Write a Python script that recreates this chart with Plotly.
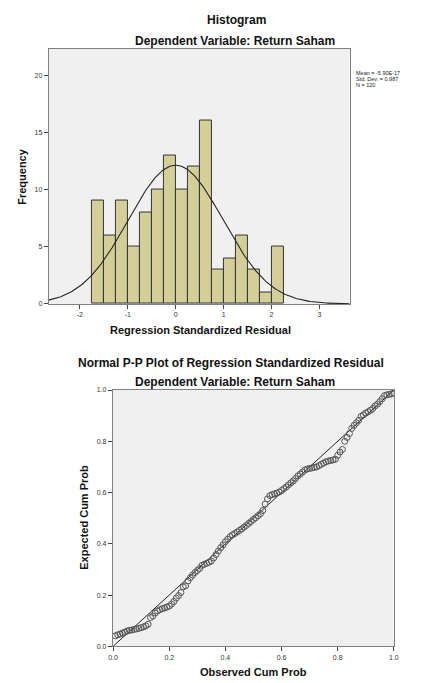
import plotly.graph_objects as go
import numpy as np
from math import sqrt, pi, exp

# ---------------- Data ----------------
# Histogram of regression standardized residuals
bin_left_edges = [-1.75, -1.5, -1.25, -1.0, -0.75, -0.5, -0.25, 0.0,
                  0.25, 0.5, 0.75, 1.0, 1.25, 1.5, 1.75, 2.0]
bin_width = 0.25
frequencies = [9, 6, 9, 5, 8, 10, 13, 10, 12, 16, 3, 4, 6, 3, 1, 5]

stat_mean = -5.90e-17
stat_sd = 0.987
stat_n = 120

hist_xticks = [-2, -1, 0, 1, 2, 3]
hist_yticks = [0, 5, 10, 15, 20]

# Normal P-P plot: expected cumulative probabilities, sorted
expected_cum_prob = [
    0.041, 0.045, 0.048, 0.052, 0.055, 0.060, 0.062, 0.064, 0.066,
    0.068, 0.070, 0.073, 0.076, 0.080, 0.086,
    0.112, 0.118, 0.130, 0.138, 0.143, 0.147, 0.150, 0.153, 0.157,
    0.165, 0.175, 0.188, 0.198, 0.210,
    0.232, 0.236, 0.255, 0.268, 0.278, 0.288, 0.296, 0.304,
    0.316, 0.320, 0.324, 0.328, 0.333, 0.345, 0.358, 0.372, 0.385, 0.396,
    0.408, 0.418, 0.428, 0.435, 0.440, 0.446, 0.452, 0.458, 0.465, 0.472, 0.480, 0.487, 0.495,
    0.502, 0.510, 0.518, 0.530, 0.555, 0.575, 0.588, 0.592, 0.595, 0.598,
    0.602, 0.608, 0.615, 0.622, 0.630, 0.638, 0.645, 0.655, 0.665, 0.672, 0.680, 0.688,
    0.692, 0.694, 0.696, 0.698, 0.700, 0.705, 0.710, 0.715, 0.720, 0.723, 0.725, 0.727,
    0.730, 0.745, 0.758, 0.768,
    0.800, 0.815, 0.830,
    0.850, 0.862, 0.872, 0.882,
    0.897, 0.903, 0.910, 0.915, 0.921, 0.928,
    0.938, 0.945, 0.955,
    0.966,
    0.978, 0.981, 0.983, 0.985, 0.987,
]
observed_cum_prob = [(i + 1) / len(expected_cum_prob) for i in range(len(expected_cum_prob))]

pp_ticks = [0.0, 0.2, 0.4, 0.6, 0.8, 1.0]

# ---------------- Layout helpers ----------------
W, H = 422, 683
def px(x):
    return x / W
def py(y):
    return 1 - y / H

FONT = "Arial, 'Liberation Sans', sans-serif"
BAR_FILL = "#d4cf98"
PLOT_BG = "#f0f0f0"
FRAME = "#808080"
TICKC = "#444444"

fig = go.Figure()

# Histogram bars
bar_centers = [e + bin_width / 2 for e in bin_left_edges]
fig.add_trace(go.Bar(
    x=bar_centers, y=frequencies, width=bin_width,
    marker=dict(color=BAR_FILL, line=dict(color="#333333", width=1)),
    xaxis="x", yaxis="y", showlegend=False, hoverinfo="x+y"))

# Fitted normal curve (from stated mean, sd, N)
xs = np.linspace(-2.65, 3.63, 300)
ys = [stat_n * bin_width / (stat_sd * sqrt(2 * pi)) * exp(-0.5 * ((v - stat_mean) / stat_sd) ** 2) for v in xs]
fig.add_trace(go.Scatter(
    x=xs, y=ys, mode="lines", line=dict(color="#222222", width=1.1),
    xaxis="x", yaxis="y", showlegend=False, hoverinfo="skip"))

# P-P diagonal
fig.add_trace(go.Scatter(
    x=[pp_ticks[0], pp_ticks[-1]], y=[pp_ticks[0], pp_ticks[-1]], mode="lines",
    line=dict(color="#222222", width=1),
    xaxis="x2", yaxis="y2", showlegend=False, hoverinfo="skip"))

# P-P points
fig.add_trace(go.Scatter(
    x=observed_cum_prob, y=expected_cum_prob, mode="markers",
    marker=dict(symbol="circle-open", size=6, color="#555555", line=dict(width=1, color="#555555")),
    xaxis="x2", yaxis="y2", showlegend=False))

axis_common = dict(
    showgrid=False, zeroline=False, showline=True, mirror=True,
    linecolor=FRAME, linewidth=1.3, ticks="outside", ticklen=4,
    tickcolor=TICKC, tickwidth=1,
    tickfont=dict(family=FONT, size=7, color="#333333"),
)

fig.update_layout(
    width=W, height=H,
    margin=dict(l=0, r=0, t=0, b=0),
    paper_bgcolor="white", plot_bgcolor=PLOT_BG,
    bargap=0,
    font=dict(family=FONT),
    xaxis=dict(domain=[px(45), px(353)], range=[-2.645, 3.63],
               tickvals=hist_xticks, ticktext=[str(v) for v in hist_xticks],
               anchor="y", **axis_common),
    yaxis=dict(domain=[py(303), py(45)], range=[0, 22.33],
               tickvals=hist_yticks, anchor="x", **axis_common),
    xaxis2=dict(domain=[px(110.7), px(398.3)], range=[0, 1],
                tickvals=pp_ticks, ticktext=[f"{v:.1f}" for v in pp_ticks],
                anchor="y2", **axis_common),
    yaxis2=dict(domain=[py(649), py(390)], range=[0, 1],
                tickvals=pp_ticks, ticktext=[f"{v:.1f}" for v in pp_ticks],
                anchor="x2", **axis_common),
)

def text(x, y, s, size, bold=True, angle=0, xanchor="center", color="#111111", pad=1):
    fig.add_annotation(
        x=px(x), y=py(y), xref="paper", yref="paper", text=(f"<b>{s}</b>" if bold else s),
        showarrow=False, xanchor=xanchor, yanchor="middle", textangle=angle, borderpad=pad,
        font=dict(family=FONT, size=size, color=color))

# Histogram titles
text(237, 16, "Histogram", 12)
text(236, 37, "Dependent Variable: Return Saham", 12)
text(200, 329, "Regression Standardized Residual", 11)
text(18, 174, "Frequency", 11, angle=-90)

# Stats box
text(358, 70, "Mean = -5.90E-17", 5.5, bold=False, xanchor="left", color="#222222", pad=0)
text(358, 76, "Std. Dev. = 0.987", 5.5, bold=False, xanchor="left", color="#222222", pad=0)
text(358, 82, "N = 120", 5.5, bold=False, xanchor="left", color="#222222", pad=0)

# P-P titles
text(231, 363, "Normal P-P Plot of Regression Standardized Residual", 12)
text(236, 382, "Dependent Variable: Return Saham", 12)
text(255, 675, "Observed Cum Prob", 11)
text(81, 519, "Expected Cum Prob", 11, angle=-90)

fig.write_html("out.html", config={"displayModeBar": False},
               post_script="document.body.style.margin='0';document.body.style.overflow='hidden';")
